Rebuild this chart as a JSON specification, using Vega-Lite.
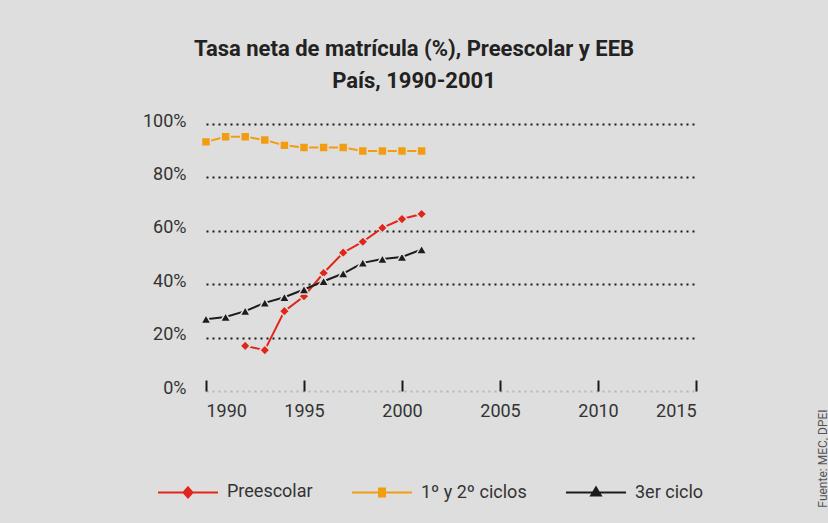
{
  "$schema": "https://vega.github.io/schema/vega-lite/v6.json",
  "width": 490,
  "height": 267,
  "autosize": {"type": "none"},
  "padding": {"left": 206, "top": 124, "right": 132, "bottom": 132},
  "background": "#dedede",
  "title": {
    "text": ["Tasa neta de matrícula (%), Preescolar y EEB", "País, 1990-2001"],
    "font": "Roboto",
    "fontSize": 22,
    "fontWeight": "bold",
    "color": "#222222",
    "lineHeight": 32,
    "anchor": "middle",
    "dx": -37,
    "offset": 19
  },
  "data": {
    "values": [
      {"year": 1992, "serie": "Preescolar", "value": 16.9},
      {"year": 1993, "serie": "Preescolar", "value": 15.3},
      {"year": 1994, "serie": "Preescolar", "value": 29.9},
      {"year": 1995, "serie": "Preescolar", "value": 35.5},
      {"year": 1996, "serie": "Preescolar", "value": 44.2},
      {"year": 1997, "serie": "Preescolar", "value": 51.8},
      {"year": 1998, "serie": "Preescolar", "value": 55.9},
      {"year": 1999, "serie": "Preescolar", "value": 61.1},
      {"year": 2000, "serie": "Preescolar", "value": 64.4},
      {"year": 2001, "serie": "Preescolar", "value": 66.3},
      {"year": 1990, "serie": "1º y 2º ciclos", "value": 93.3},
      {"year": 1991, "serie": "1º y 2º ciclos", "value": 95.2},
      {"year": 1992, "serie": "1º y 2º ciclos", "value": 95.2},
      {"year": 1993, "serie": "1º y 2º ciclos", "value": 94.0},
      {"year": 1994, "serie": "1º y 2º ciclos", "value": 92.0},
      {"year": 1995, "serie": "1º y 2º ciclos", "value": 91.2},
      {"year": 1996, "serie": "1º y 2º ciclos", "value": 91.2},
      {"year": 1997, "serie": "1º y 2º ciclos", "value": 91.2},
      {"year": 1998, "serie": "1º y 2º ciclos", "value": 89.9},
      {"year": 1999, "serie": "1º y 2º ciclos", "value": 89.9},
      {"year": 2000, "serie": "1º y 2º ciclos", "value": 89.9},
      {"year": 2001, "serie": "1º y 2º ciclos", "value": 89.9},
      {"year": 1990, "serie": "3er ciclo", "value": 26.9},
      {"year": 1991, "serie": "3er ciclo", "value": 27.7},
      {"year": 1992, "serie": "3er ciclo", "value": 29.9},
      {"year": 1993, "serie": "3er ciclo", "value": 33.0},
      {"year": 1994, "serie": "3er ciclo", "value": 35.1},
      {"year": 1995, "serie": "3er ciclo", "value": 38.0},
      {"year": 1996, "serie": "3er ciclo", "value": 41.1},
      {"year": 1997, "serie": "3er ciclo", "value": 44.0},
      {"year": 1998, "serie": "3er ciclo", "value": 48.0},
      {"year": 1999, "serie": "3er ciclo", "value": 49.4},
      {"year": 2000, "serie": "3er ciclo", "value": 50.2},
      {"year": 2001, "serie": "3er ciclo", "value": 53.0}
    ]
  },
  "encoding": {
    "x": {
      "field": "year",
      "type": "quantitative",
      "scale": {"domain": [1990, 2015], "nice": false, "zero": false},
      "axis": {
        "values": [1990, 1995, 2000, 2005, 2010, 2015],
        "format": "d",
        "offset": -11,
        "domain": false,
        "grid": false,
        "tickSize": 11,
        "tickWidth": 2,
        "tickColor": "#1a1a1a",
        "labelPadding": 11,
        "labelFont": "Roboto",
        "labelFontSize": 18,
        "labelColor": "#333333",
        "title": null
      }
    },
    "y": {
      "field": "value",
      "type": "quantitative",
      "scale": {"domain": [0, 100], "nice": false}
    },
    "color": {
      "field": "serie",
      "type": "nominal",
      "scale": {
        "domain": ["Preescolar", "1º y 2º ciclos", "3er ciclo"],
        "range": ["#e1251b", "#f29c12", "#1e1b1b"]
      },
      "legend": {
        "orient": "none",
        "legendX": -49,
        "legendY": 337,
        "direction": "horizontal",
        "title": null,
        "padding": 0,
        "symbolSize": 3600,
        "symbolStrokeWidth": 2,
        "labelFont": "Roboto",
        "labelFontSize": 18,
        "labelColor": "#333333",
        "labelOffset": 8,
        "columnPadding": 35
      }
    }
  },
  "layer": [
    {
      "mark": {"type": "line", "strokeWidth": 2},
      "encoding": {
        "y": {
          "field": "value",
          "type": "quantitative",
          "axis": {
            "orient": "left",
            "values": [0, 20, 40, 60, 80, 100],
            "labelExpr": "datum.value + '%'",
            "domain": false,
            "ticks": false,
            "grid": true,
            "gridColor": {"condition": {"test": "datum.value === 0", "value": "#b5b5b5"}, "value": "#1a1a1a"},
            "gridWidth": 2,
            "gridDash": [2, 4],
            "labelPadding": 20,
            "labelOffset": -3,
            "labelFont": "Roboto",
            "labelFontSize": 18,
            "labelColor": "#333333",
            "title": null
          }
        }
      }
    },
    {
      "transform": [{"filter": "datum.serie === 'Preescolar'"}],
      "mark": {"type": "point", "shape": "diamond", "filled": true, "opacity": 1, "stroke": "#dedede", "strokeWidth": 1.5, "size": 105},
      "encoding": {
        "y": {"field": "value", "type": "quantitative", "axis": null}
      }
    },
    {
      "transform": [{"filter": "datum.serie === '1º y 2º ciclos'"}],
      "mark": {"type": "point", "shape": "square", "filled": true, "opacity": 1, "stroke": "#dedede", "strokeWidth": 1.5, "size": 80},
      "encoding": {
        "y": {"field": "value", "type": "quantitative", "axis": null}
      }
    },
    {
      "transform": [{"filter": "datum.serie === '3er ciclo'"}],
      "mark": {"type": "point", "shape": "triangle-up", "filled": true, "opacity": 1, "stroke": "#dedede", "strokeWidth": 1.5, "size": 105},
      "encoding": {
        "y": {"field": "value", "type": "quantitative", "axis": null}
      }
    },
    {
      "transform": [{"filter": "datum.year < 0"}],
      "mark": {"type": "point", "filled": false, "opacity": 1, "strokeWidth": 2},
      "encoding": {
        "y": {
          "field": "value",
          "type": "quantitative",
          "axis": {
            "orient": "right",
            "labels": false,
            "ticks": false,
            "domain": false,
            "grid": false,
            "title": "Fuente: MEC, DPEI",
            "titleAngle": 270,
            "titleX": 126,
            "titleY": 334,
            "titleAlign": "center",
            "titleBaseline": "middle",
            "titleFont": "Roboto",
            "titleFontSize": 12,
            "titleFontWeight": "normal",
            "titleColor": "#555555"
          }
        },
        "shape": {
          "field": "serie",
          "type": "nominal",
          "scale": {
            "domain": ["Preescolar", "1º y 2º ciclos", "3er ciclo"],
            "range": [
              "M-1,0H1M0,-0.17L0.15,0L0,0.17L-0.15,0ZM0,-0.11L0.1,0L0,0.11L-0.1,0ZM0,-0.05L0.045,0L0,0.05L-0.045,0Z",
              "M-1,0H1M-0.1,-0.13H0.1V0.13H-0.1ZM-0.05,-0.08H0.05V0.08H-0.05ZM0,-0.03V0.03",
              "M-1,0H1M0,-0.17L0.16,0.1L-0.16,0.1ZM0,-0.09L0.09,0.06L-0.09,0.06ZM0,-0.02L0.02,0.03L-0.02,0.03Z"
            ]
          }
        }
      }
    }
  ],
  "resolve": {"axis": {"y": "independent"}},
  "config": {"view": {"stroke": null}}
}
